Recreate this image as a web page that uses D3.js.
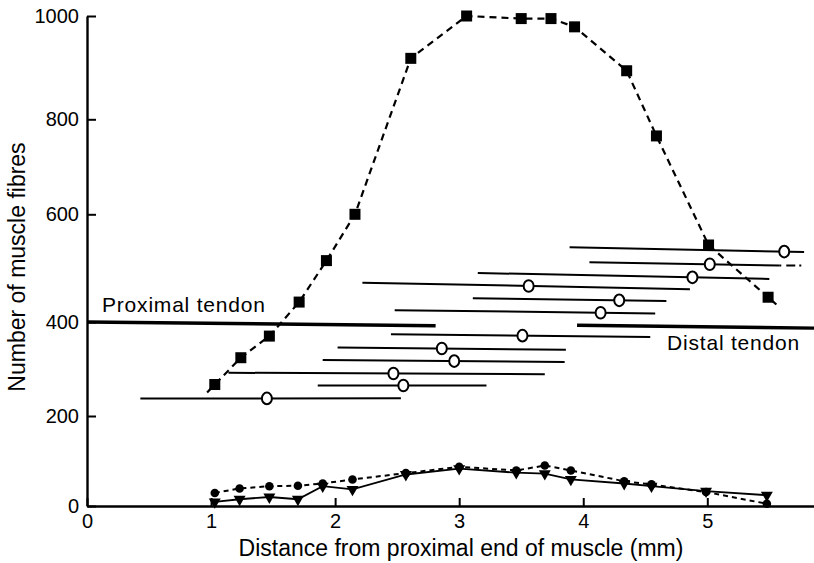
<!DOCTYPE html>
<html>
<head>
<meta charset="utf-8">
<script src="https://cdn.jsdelivr.net/npm/d3@7"></script>
<style>
  body { margin: 0; background: #fff; }
  svg { display: block; font-family: "Liberation Sans", Arial, Helvetica, sans-serif; }
  .axis path, .axis line { stroke: #000; }
  .axis text { font-size: 20px; fill: #000; }
</style>
</head>
<body>
<script>
// total fibres per section (filled squares)
var fibreX = [1.03, 1.24, 1.47, 1.71, 1.93, 2.16, 2.61, 3.06, 3.50, 3.74, 3.93, 4.35, 4.59, 5.01, 5.49];
var fibreTotal = [267, 324, 370, 437, 514, 600, 918, 1000, 995, 995, 979, 894, 765, 543, 446];

// the two small series along the bottom
var smallX = [1.03, 1.23, 1.47, 1.70, 1.90, 2.14, 2.57, 3.00, 3.46, 3.69, 3.90, 4.33, 4.55, 4.99, 5.48];
var seriesDot = [29, 39, 44, 45, 50, 59, 73, 87, 79, 90, 79, 55, 48, 31, 5];
var seriesTri = [9, 15, 20, 15, 44, 37, 70, 83, 74, 72, 59, 50, 44, 33, 24];

// single fibres: extent of each fibre and the open circle on it
var barStart  = [3.89, 4.05, 3.15, 2.22, 3.11, 2.48, 2.45, 2.02, 1.90, 1.14, 1.86, 0.43];
var barEnd    = [5.78, 5.58, 5.50, 4.86, 4.67, 4.58, 4.54, 3.86, 3.85, 3.69, 3.22, 2.53];
var barLeftY  = [539, 511, 491, 473, 444, 422, 374, 346, 319, 292, 265, 237];
var barRightY = [530, 505, 480, 461, 439, 416, 368, 341, 315, 289, 265, 238];
var barMark   = [5.62, 5.02, 4.88, 3.56, 4.29, 4.14, 3.51, 2.86, 2.96, 2.47, 2.55, 1.45];
var barDashTo = [null, 5.78, null, null, null, null, null, null, null, null, null, null];

// tendons
var tendonNames = ["Proximal tendon", "Distal tendon"];
var tendonX1 = [0, 3.95];
var tendonX2 = [2.81, 5.86];
var tendonY1 = [400, 393];
var tendonY2 = [392, 387];

// axis ticks
var xTicks = [0, 1, 2, 3, 4, 5];
var yTicks = [0, 200, 400, 600, 800, 1000];

var width = 814, height = 563;
var padding = {left: 87, right: 0, top: 16, bottom: 57};

var svg = d3.select("body").append("svg")
  .attr("width", width)
  .attr("height", height);

var g = svg.append("g")
  .attr("transform", "translate(" + padding.left + "," + padding.top + ")");

var w = width - padding.left - padding.right;
var h = height - padding.top - padding.bottom;

var x = d3.scaleLinear().domain([0, 5.86]).range([0, w]);
// the scanned axis is slightly uneven, so the y scale follows its ticks
var y = d3.scaleLinear()
  .domain(yTicks)
  .range([h, h - 90, h - 184, h - 291.7, h - 386.7, 0]);

// axes (ticks point inward)
var xAxis = d3.axisBottom(x).tickValues(xTicks).tickFormat(d3.format("d"))
  .tickSizeInner(-8).tickSizeOuter(0).tickPadding(8);
var yAxis = d3.axisLeft(y).tickValues(yTicks).tickFormat(d3.format("d"))
  .tickSizeInner(-9).tickSizeOuter(0).tickPadding(8);

var gx = g.append("g").attr("class", "axis")
  .attr("transform", "translate(0," + h + ")")
  .call(xAxis);
gx.select(".domain").attr("stroke-width", 2.6);
gx.selectAll(".tick line").attr("stroke-width", 2);

var gy = g.append("g").attr("class", "axis").call(yAxis);
gy.select(".domain").attr("stroke-width", 2.4);
gy.selectAll(".tick line").attr("stroke-width", 2);

// axis titles
svg.append("text")
  .attr("x", 461).attr("y", 556)
  .attr("text-anchor", "middle")
  .style("font-size", "23px")
  .text("Distance from proximal end of muscle (mm)");

svg.append("text")
  .attr("transform", "translate(25,267) rotate(-90)")
  .attr("text-anchor", "middle")
  .style("font-size", "23px")
  .text("Number of muscle fibres");

// tendons
var tendons = d3.range(tendonNames.length);
g.selectAll(".tendon").data(tendons).enter().append("line")
  .attr("class", "tendon")
  .attr("x1", function(i) { return x(tendonX1[i]); })
  .attr("x2", function(i) { return x(tendonX2[i]); })
  .attr("y1", function(i) { return y(tendonY1[i]); })
  .attr("y2", function(i) { return y(tendonY2[i]); })
  .attr("stroke", "#000").attr("stroke-width", 3.4);

g.append("text")
  .attr("x", x(tendonX1[0]) + 15).attr("y", y(tendonY1[0]) - 10)
  .style("font-size", "21px").style("letter-spacing", "0.8px")
  .text(tendonNames[0]);
g.append("text")
  .attr("x", x(tendonX1[1]) + 90).attr("y", y(tendonY1[1]) + 25)
  .style("font-size", "21px").style("letter-spacing", "0.8px")
  .text(tendonNames[1]);

// single fibre bars
var bars = d3.range(barStart.length);
g.selectAll(".bar").data(bars).enter().append("line")
  .attr("class", "bar")
  .attr("x1", function(i) { return x(barStart[i]); })
  .attr("x2", function(i) { return x(barEnd[i]); })
  .attr("y1", function(i) { return y(barLeftY[i]); })
  .attr("y2", function(i) { return y(barRightY[i]); })
  .attr("stroke", "#000").attr("stroke-width", 2);

g.selectAll(".barTail").data(bars.filter(function(i) { return barDashTo[i] != null; }))
  .enter().append("line")
  .attr("class", "barTail")
  .attr("x1", function(i) { return x(barEnd[i]); })
  .attr("x2", function(i) { return x(barDashTo[i]); })
  .attr("y1", function(i) { return y(barRightY[i]); })
  .attr("y2", function(i) { return y(barRightY[i]); })
  .attr("stroke", "#000").attr("stroke-width", 2)
  .attr("stroke-dasharray", "2,5,9,4");

function markY(i) {
  var t = (barMark[i] - barStart[i]) / (barEnd[i] - barStart[i]);
  return y(barLeftY[i] + (barRightY[i] - barLeftY[i]) * t);
}
g.selectAll(".mark").data(bars).enter().append("ellipse")
  .attr("class", "mark")
  .attr("cx", function(i) { return x(barMark[i]); })
  .attr("cy", markY)
  .attr("rx", 5).attr("ry", 5.8)
  .attr("fill", "#fff").attr("stroke", "#000").attr("stroke-width", 2);

// total fibre curve, dashed and running a little past the end points
var fibrePts = fibreX.map(function(d, i) { return [x(d), y(fibreTotal[i])]; });
function stretch(a, b, len) {
  var dx = a[0] - b[0], dy = a[1] - b[1], l = Math.sqrt(dx * dx + dy * dy);
  return [a[0] + dx / l * len, a[1] + dy / l * len];
}
var n = fibrePts.length;
var fibreLine = [stretch(fibrePts[0], fibrePts[1], 11)]
  .concat(fibrePts)
  .concat([stretch(fibrePts[n - 1], fibrePts[n - 2], 11)]);

g.append("path")
  .attr("d", d3.line()(fibreLine))
  .attr("fill", "none").attr("stroke", "#000")
  .attr("stroke-width", 2.2).attr("stroke-dasharray", "7,5");

g.selectAll(".sq").data(fibrePts).enter().append("rect")
  .attr("class", "sq")
  .attr("x", function(d) { return d[0] - 5.5; })
  .attr("y", function(d) { return d[1] - 5.5; })
  .attr("width", 11).attr("height", 11)
  .attr("fill", "#000");

// bottom series
var dotLine = d3.line()
  .x(function(d, i) { return x(smallX[i]); })
  .y(function(d) { return y(d); });

g.append("path")
  .attr("d", dotLine(seriesDot))
  .attr("fill", "none").attr("stroke", "#000")
  .attr("stroke-width", 2).attr("stroke-dasharray", "5,4");

g.append("path")
  .attr("d", dotLine(seriesTri))
  .attr("fill", "none").attr("stroke", "#000")
  .attr("stroke-width", 1.8);

g.selectAll(".dot").data(seriesDot).enter().append("circle")
  .attr("class", "dot")
  .attr("cx", function(d, i) { return x(smallX[i]); })
  .attr("cy", function(d) { return y(d); })
  .attr("r", 4.3)
  .attr("fill", "#000");

var tri = d3.symbol().type(d3.symbolTriangle).size(62);
g.selectAll(".tri").data(seriesTri).enter().append("path")
  .attr("class", "tri")
  .attr("transform", function(d, i) {
    return "translate(" + x(smallX[i]) + "," + y(d) + ") rotate(180)";
  })
  .attr("d", tri)
  .attr("fill", "#000");
</script>
</body>
</html>
